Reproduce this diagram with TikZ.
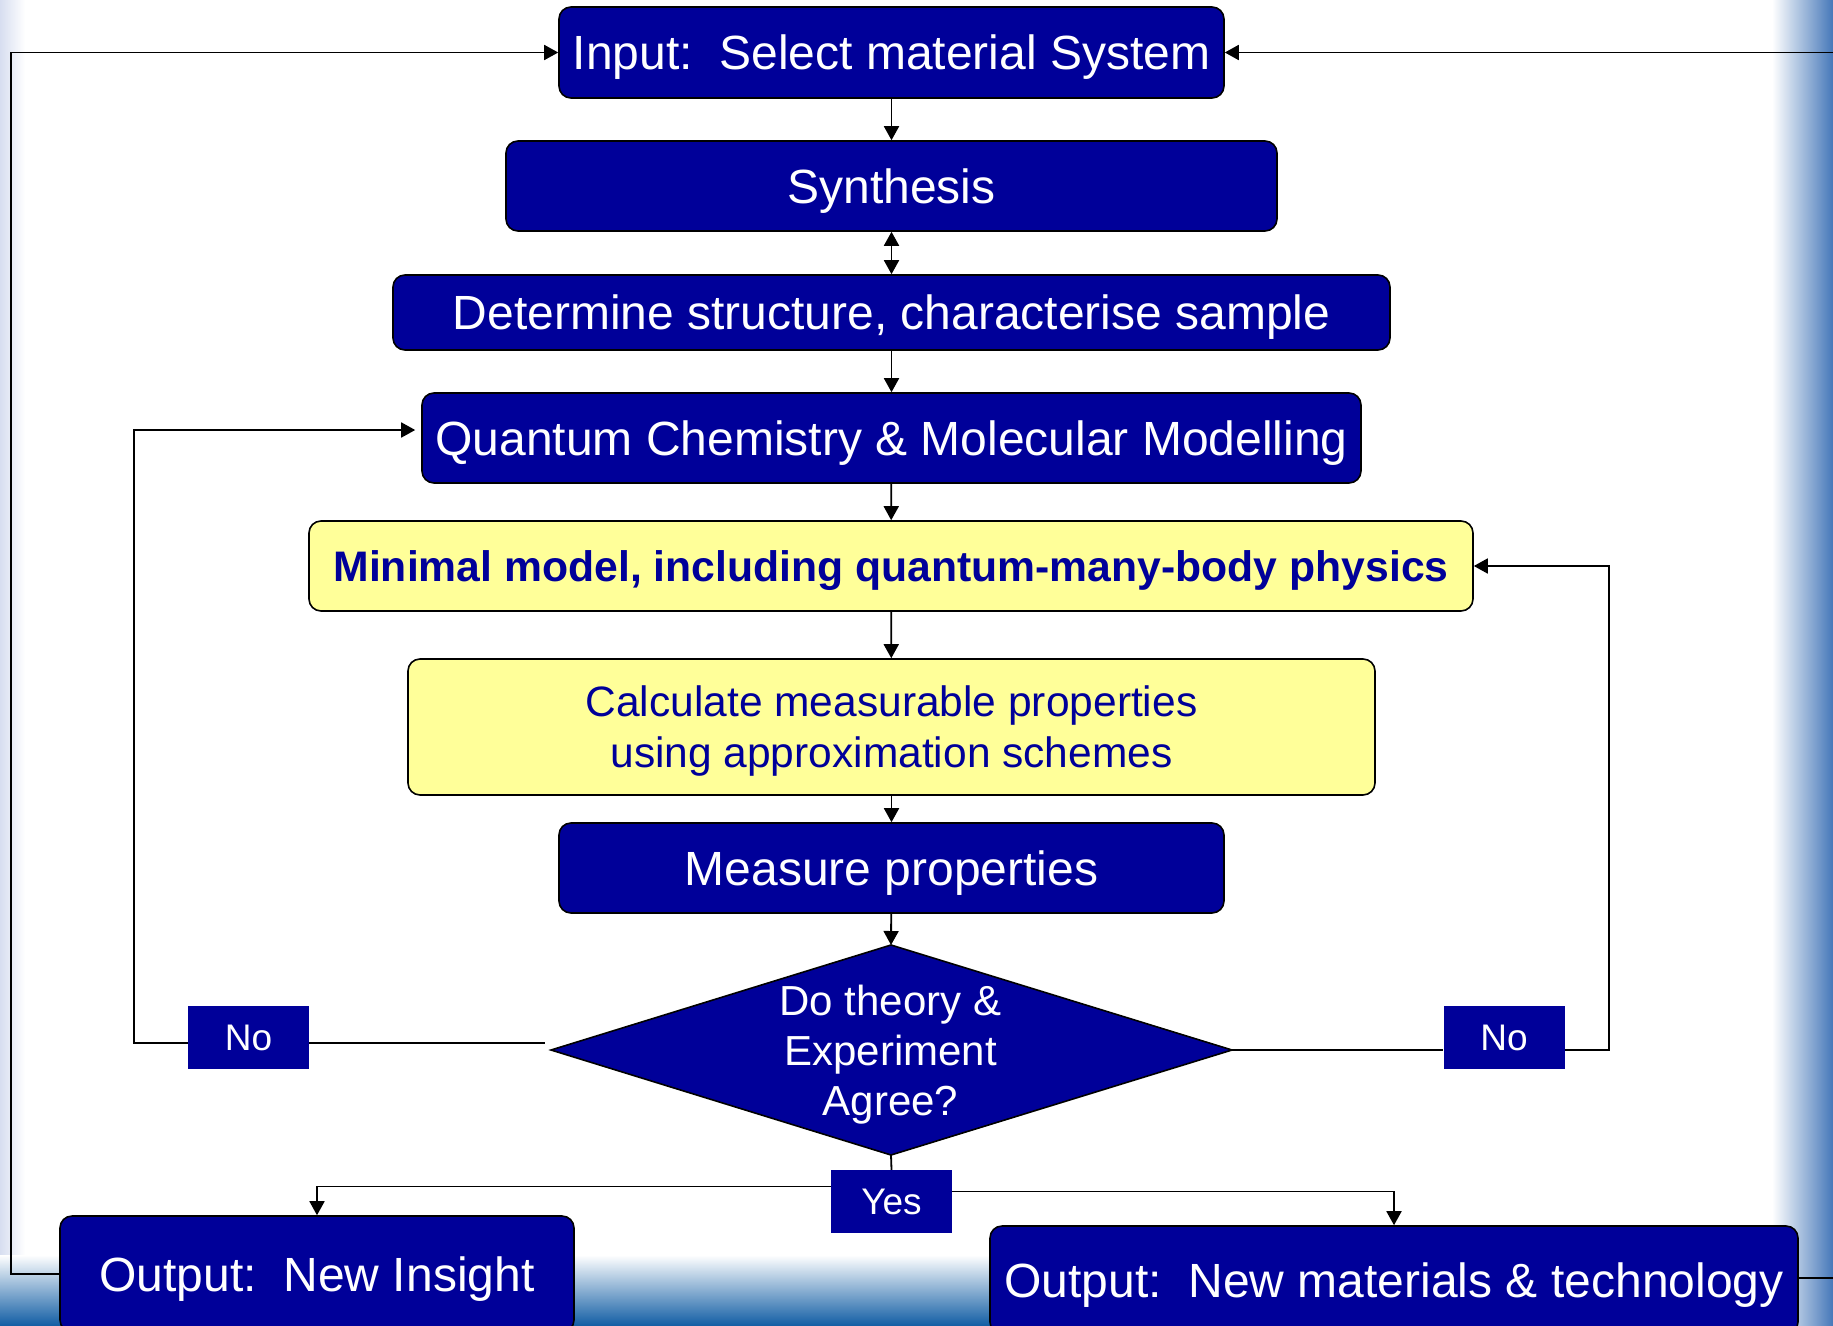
\documentclass[tikz,border=0pt]{standalone}
\usepackage{fontspec}
\setmainfont{Liberation Sans}
\usetikzlibrary{arrows.meta}
\definecolor{dkblue}{RGB}{0,0,153}
\definecolor{ylw}{RGB}{255,255,153}
\definecolor{bgblue}{RGB}{70,120,185}
\definecolor{bgblueb}{RGB}{20,95,165}
\definecolor{bgleft}{RGB}{215,222,240}
\begin{document}
\begin{tikzpicture}[x=1pt,y=-1pt,
  box/.style={draw=black, line width=1.6pt, rounded corners=12pt, inner sep=0pt},
  bluebox/.style={box, fill=dkblue, text=white, font=\fontsize{48}{52}\selectfont, text height=45pt, text depth=10.6pt},
  ylwbox/.style={box, fill=ylw, text=dkblue, font=\fontsize{42.5}{51}\selectfont, align=center},
  lab/.style={fill=dkblue, text=white, inner sep=0pt, minimum width=121pt, minimum height=63pt, font=\fontsize{37}{42}\selectfont, text height=34.5pt, text depth=8pt},
  conn/.style={line width=1.8pt, draw=black},
  tip/.tip={Triangle[length=14pt,width=15pt]},
  arr/.style={conn, -tip},
]
\clip (0,0) rectangle (1833,1325);
% background
\fill[white] (0,0) rectangle (1833,1325);
\shade[left color=bgleft, right color=white] (0,0) rectangle (25,1325);
\shade[top color=white, bottom color=bgblueb] (0,1255) rectangle (1833,1325);
\shade[left color=white, right color=bgblue] (1772,0) rectangle (1833,1325);

% boxes
\node[bluebox, minimum width=665pt, minimum height=91pt] (in) at (891.5,52.5) {Input:\ \ Select material System};
\node[bluebox, minimum width=771pt, minimum height=90pt] (syn) at (891.5,186) {Synthesis};
\node[bluebox, minimum width=997pt, minimum height=75pt] (det) at (891.5,312.5) {Determine structure, characterise sample};
\node[bluebox, minimum width=939pt, minimum height=90pt] (qc) at (891.5,438) {Quantum Chemistry \& Molecular Modelling};
\node[ylwbox, minimum width=1164pt, minimum height=90pt, font=\bfseries\fontsize{42.7}{51}\selectfont, text height=40pt, text depth=9.2pt] (min) at (891,566) {Minimal model, including quantum-many-body physics};
\node[ylwbox, minimum width=967pt, minimum height=136pt, text depth=0pt] (calc) at (891.5,727) {Calculate measurable properties\\using approximation schemes};
\node[bluebox, minimum width=665pt, minimum height=90pt] (meas) at (891.5,868) {Measure properties};

% decision
\coordinate (diaN) at (891,945);
\coordinate (diaE) at (1232,1050);
\coordinate (diaS) at (891,1155);
\coordinate (diaW) at (551,1050);
\filldraw[fill=dkblue, draw=black, line width=1.6pt] (diaN) -- (diaE) -- (diaS) -- (diaW) -- cycle;
\node[text=white, align=center, font=\fontsize{42}{50}\selectfont, inner sep=0pt, text depth=0pt] (dia) at (890.5,1050) {Do theory \&\\Experiment\\Agree?};

\node[lab] (noL) at (248.5,1037) {No};
\node[lab] (noR) at (1504,1037) {No};
\node[lab] (yes) at (891.5,1201.5) {Yes};

\node[bluebox, minimum width=514pt, minimum height=116pt] (outI) at (317,1274) {Output:\ \ New Insight};
\node[bluebox, minimum width=808pt, minimum height=108pt] (outM) at (1394,1280) {Output:\ \ New materials \& technology};

% connectors
\draw[arr] (in) -- (syn);
\draw[conn, tip-tip] (syn) -- (det);
\draw[arr] (det) -- (qc);
\draw[arr] (qc) -- (min);
\draw[arr] (min) -- (calc);
\draw[arr] (calc) -- (meas);
\draw[arr] (meas) -- (diaN);

\draw[conn] ([yshift=-6pt]noL.east) -- ++(236,0);
\draw[arr] ([yshift=-6pt]noL.west) -- ++(-54,0) |- ([xshift=-6pt,yshift=8pt]qc.west);
\draw[conn] (diaE) -- (diaE -| noR.west);
\draw[arr] (noR.east |- diaE) -- ++(44,0) |- (min.east);

\draw[conn] (diaS) -- (yes.north);
\draw[arr] ([yshift=15pt]yes.west) -| (outI.north);
\draw[arr] ([yshift=10pt]yes.east) -| (outM.north);

\draw[arr] (outI.west) -- ++(-48,0) |- (in.west);
\draw[arr] ([yshift=2pt]outM.east) -- ++(80,0) |- (in.east);
\end{tikzpicture}
\end{document}
